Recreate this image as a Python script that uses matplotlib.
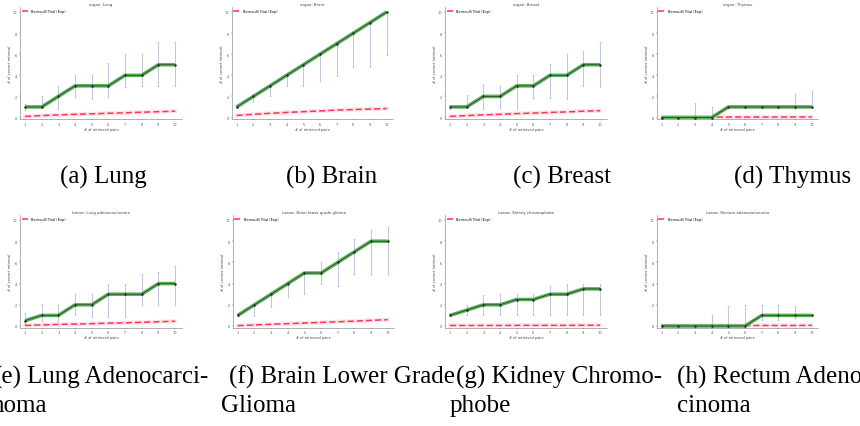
import matplotlib
matplotlib.use("Agg")
import matplotlib.pyplot as plt
import numpy as np

W, H = 860, 427
x = [1, 2, 3, 4, 5, 6, 7, 8, 9, 10]

titles = ["organ: Lung", "organ: Brain", "organ: Breast", "organ: Thymus",
          "tumor: Lung adenocarcinoma", "tumor: Brain lower grade glioma",
          "tumor: Kidney chromophobe", "tumor: Rectum adenocarcinoma"]

green = [
    [1, 1, 2, 3, 3, 3, 4, 4, 5, 5],
    [1, 2, 3, 4, 5, 6, 7, 8, 9, 10],
    [1, 1, 2, 2, 3, 3, 4, 4, 5, 5],
    [0, 0, 0, 0, 1, 1, 1, 1, 1, 1],
    [0.5, 1, 1, 2, 2, 3, 3, 3, 4, 4],
    [1, 2, 3, 4, 5, 5, 6, 7, 8, 8],
    [1, 1.5, 2, 2, 2.5, 2.5, 3, 3, 3.5, 3.5],
    [0, 0, 0, 0, 0, 0, 1, 1, 1, 1],
]

err_low = [
    [0.7, 1.0, 0.8, 1.9, 1.8, 1.9, 2.9, 3.0, 3.0, 3.0],
    [0.9, 1.5, 2.0, 3.0, 3.0, 3.5, 3.9, 4.8, 4.8, 5.9],
    [0.8, 1.0, 0.85, 0.9, 0.85, 1.85, 1.85, 1.8, 3.0, 2.9],
    [0, 0, 0, 0, 0.9, 0.9, 0.9, 0.9, 0.8, 0.9],
    [0.2, 0.5, 0.5, 1.0, 0.85, 0.85, 0.85, 1.95, 1.95, 1.95],
    [0.9, 0.95, 1.8, 2.7, 3.0, 4.0, 3.75, 4.9, 4.9, 4.9],
    [0.9, 1.0, 1.0, 1.0, 1.0, 1.0, 1.0, 1.0, 1.0, 1.0],
    [0, 0, 0, 0, 0, 0, 0.6, 0.6, 0.8, 0.9],
]

err_high = [
    [1.3, 2.06, 2.95, 4.0, 4.0, 5.2, 6.0, 6.0, 7.2, 7.2],
    [1.1, 2.2, 3.0, 4.0, 5.0, 6.0, 7.0, 8.0, 9.0, 10.0],
    [1.2, 2.1, 3.05, 3.0, 4.0, 4.0, 5.1, 6.05, 6.3, 7.2],
    [0, 0, 1.4, 1.0, 1.1, 1.1, 1.1, 1.1, 2.2, 2.5],
    [1.2, 2.1, 2.0, 3.06, 3.06, 4.0, 4.0, 4.95, 5.1, 5.7],
    [1.1, 1.95, 3.2, 4.0, 5.0, 6.0, 7.0, 8.2, 9.1, 9.3],
    [1.1, 1.95, 2.9, 3.05, 3.05, 3.05, 3.8, 4.0, 4.0, 4.0],
    [0, 0, 0, 1.0, 1.9, 1.95, 2.0, 2.0, 1.9, 1.1],
]

baseline = [
    [0.1, 0.18, 0.25, 0.3, 0.35, 0.4, 0.45, 0.5, 0.55, 0.6],
    [0.2, 0.3, 0.4, 0.48, 0.55, 0.62, 0.7, 0.75, 0.8, 0.85],
    [0.1, 0.18, 0.25, 0.3, 0.37, 0.42, 0.48, 0.53, 0.6, 0.65],
    [0.03, 0.03, 0.03, 0.03, 0.04, 0.04, 0.04, 0.04, 0.05, 0.05],
    [0.05, 0.1, 0.15, 0.18, 0.22, 0.27, 0.3, 0.35, 0.4, 0.45],
    [0.03, 0.1, 0.16, 0.22, 0.28, 0.34, 0.4, 0.46, 0.53, 0.6],
    [0.05, 0.05, 0.05, 0.05, 0.06, 0.06, 0.06, 0.06, 0.07, 0.07],
    [0.03, 0.03, 0.03, 0.04, 0.04, 0.04, 0.05, 0.05, 0.05, 0.06],
]

legend_label = "Bernoulli Trial (Exp)"
ylabel = "# of correct retrieval"
xlabel = "# of retrieved pairs"
yticks = [0, 2, 4, 6, 8, 10]

captions_row1 = ["(a) Lung", "(b) Brain", "(c) Breast", "(d) Thymus"]

fig = plt.figure(figsize=(W / 100, H / 100), dpi=100)

x1_px = [25, 236.7, 450, 661.7, 25, 237.7, 450, 661.7]
ppu = 16.67
row_y0 = [118.5, 327]
row_ppu = [10.55, 10.6]
xmin, xmax = 0.7, 10.4
ymin, ymax = -0.15, 10.45

for i in range(8):
    r = i // 4
    left = x1_px[i] - (1 - xmin) * ppu
    width = (xmax - xmin) * ppu
    top = row_y0[r] - ymax * row_ppu[r]
    bottom = row_y0[r] - ymin * row_ppu[r]
    ax = fig.add_axes([left / W, 1 - bottom / H, width / W, (bottom - top) / H])
    g = np.array(green[i], float)
    lo = np.array(err_low[i], float)
    hi = np.array(err_high[i], float)
    ax.errorbar(x, g, yerr=[np.clip(g - lo, 0, None), np.clip(hi - g, 0, None)],
                fmt="none", ecolor="#8d9bc9", elinewidth=0.5, capsize=0.8,
                capthick=0.4, alpha=0.8, zorder=1)
    ax.plot(x, baseline[i], color="#ff4466", lw=3, alpha=0.15, zorder=2)
    ax.plot(x, baseline[i], color="#ff3355", lw=1.1, ls=(0, (4, 2)), zorder=3,
            label=legend_label)
    ax.plot(x, g, color="#5fb05f", lw=2.6, solid_capstyle="butt", zorder=4)
    ax.plot(x, g, color="#1e3a1e", lw=0.5, marker="o", ms=0.8, zorder=5)
    ax.set_xlim(xmin, xmax)
    ax.set_ylim(ymin, ymax)
    ax.set_xticks(x)
    ax.set_yticks(yticks)
    ax.tick_params(labelsize=2.5, length=1, width=0.3, pad=1, colors="#555555")
    for s in ["top", "right"]:
        ax.spines[s].set_visible(False)
    for s in ["left", "bottom"]:
        ax.spines[s].set_linewidth(0.4)
        ax.spines[s].set_color("#777777")
    ax.set_title(titles[i], fontsize=2.8, pad=1.5, color="#444444")
    ax.set_xlabel(xlabel, fontsize=2.5, labelpad=0.5, color="#444444")
    ax.set_ylabel(ylabel, fontsize=2.5, labelpad=0.5, color="#444444")
    ax.legend(loc="upper left", fontsize=2.5, frameon=False, handlelength=2,
              borderpad=0.3, borderaxespad=0.2)
    ax.patch.set_alpha(0)

serif = "Liberation Serif"
fs = 18
cx = [103, 332, 562, 793]
for c, t in zip(cx, captions_row1):
    fig.text(c / W, 1 - 177 / H, t, ha="center", va="center", fontsize=fs, family=serif)

l1 = 1 - 377 / H
l2 = 1 - 406 / H
fig.text(22 / W, l1, "(e)", ha="right", va="center", fontsize=fs, family=serif)
fig.text(27 / W, l1, "Lung Adenocarci-", ha="left", va="center", fontsize=fs, family=serif)
fig.text(229 / W, l1, "(f) Brain Lower Grade", ha="left", va="center", fontsize=fs, family=serif)
fig.text(456 / W, l1, "(g) Kidney Chromo-", ha="left", va="center", fontsize=fs, family=serif)
fig.text(677 / W, l1, "(h) Rectum Adenocar-", ha="left", va="center", fontsize=fs, family=serif)
fig.text(47 / W, l2, "noma", ha="right", va="center", fontsize=fs, family=serif)
fig.text(221 / W, l2, "Glioma", ha="left", va="center", fontsize=fs, family=serif)
fig.text(450 / W, l2, "phobe", ha="left", va="center", fontsize=fs, family=serif)
fig.text(677 / W, l2, "cinoma", ha="left", va="center", fontsize=fs, family=serif)

fig.savefig("out.png", dpi=100, facecolor="white")
